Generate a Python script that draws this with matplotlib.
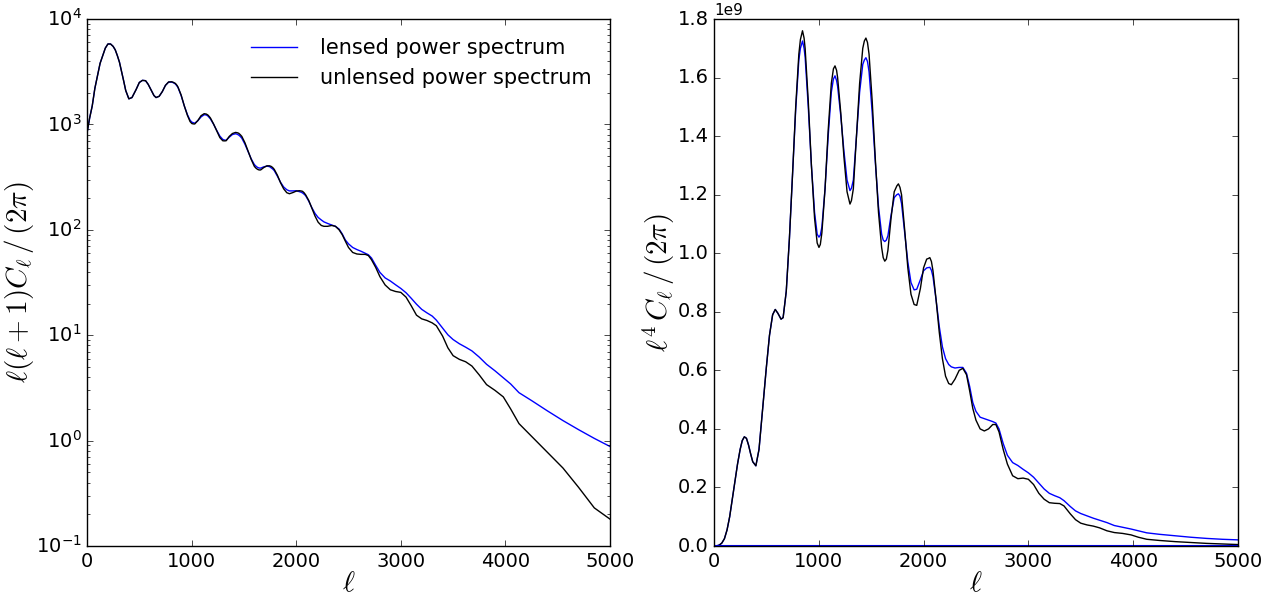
import numpy as np
import matplotlib
matplotlib.use('Agg')
import matplotlib.pyplot as plt

# multipoles
ell = [2, 25, 50, 75, 100, 125, 150, 175, 200, 225, 250, 270, 290, 310, 330, 350, 370,
       400, 430, 470, 500, 530, 560, 585, 610, 640, 660, 690, 720, 750, 780, 810, 825,
       845, 860, 870, 900, 930, 960, 985, 1002, 1015, 1030, 1060, 1090, 1120, 1140,
       1155, 1170, 1180, 1210, 1240, 1270, 1298, 1312, 1330, 1360, 1390, 1420, 1435,
       1450, 1465, 1480, 1510, 1540, 1570, 1600, 1615, 1630, 1645, 1660, 1690, 1720,
       1745, 1760, 1775, 1790, 1820, 1850, 1880, 1910, 1935, 1970, 2000, 2030, 2045,
       2060, 2075, 2090, 2120, 2150, 2180, 2210, 2240, 2265, 2300, 2340, 2375, 2410,
       2440, 2470, 2500, 2540, 2580, 2620, 2660, 2690, 2720, 2760, 2800, 2850, 2900,
       2950, 3000, 3050, 3100, 3150, 3200, 3250, 3300, 3340, 3400, 3450, 3500, 3560,
       3620, 3680, 3750, 3820, 3900, 3980, 4050, 4130, 4250, 4400, 4550, 4700, 4850,
       5000]

# l(l+1)C_l/2pi  (left panel)
dl_unlensed = [850, 1150, 1500, 2200, 2900, 3800, 4500, 5300, 5800, 5800, 5500, 5100,
               4500, 3900, 3200, 2600, 2100, 1750, 1800, 2150, 2500, 2620, 2600, 2400,
               2150, 1880, 1800, 1850, 2050, 2350, 2530, 2540, 2510, 2450, 2350, 2260,
               1900, 1500, 1220, 1065, 1020, 1012, 1010, 1090, 1210, 1265, 1255, 1230,
               1185, 1150, 1010, 870, 750, 700, 698, 700, 770, 820, 840, 835, 825, 800,
               770, 670, 560, 465, 400, 385, 375, 370, 370, 390, 405, 405, 400, 390,
               375, 330, 280, 245, 225, 220, 226, 233, 235, 234, 232, 225, 215, 190,
               160, 135, 118, 110, 108, 108, 110, 108, 100, 90, 78, 68, 61, 59, 58.5,
               58.5, 57, 52, 44, 36, 30, 27, 26, 25.5, 23, 19, 15.5, 14.3, 13.8, 13.1,
               12.3, 9.8, 7.6, 6.4, 5.9, 5.6, 5.1, 4.2, 3.4, 3.0, 2.6, 2.0, 1.45, 1.1,
               0.78, 0.55, 0.36, 0.23, 0.18]
dl_lensed = [850, 1150, 1500, 2200, 2900, 3800, 4500, 5300, 5800, 5800, 5500, 5100,
             4500, 3900, 3200, 2600, 2100, 1750, 1800, 2150, 2500, 2620, 2600, 2400,
             2150, 1880, 1800, 1850, 2050, 2350, 2520, 2520, 2490, 2420, 2320, 2240,
             1880, 1500, 1237, 1098, 1051, 1040, 1027, 1086, 1178, 1236, 1230, 1204,
             1160, 1128, 1004, 878, 775, 721, 712, 707, 757, 802, 816, 808, 793, 770,
             740, 649, 552, 471, 416, 402, 391, 386, 385, 396, 402, 398, 388, 378,
             365, 323, 283, 255, 240, 234, 234, 235, 230, 228, 224, 218, 211, 187,
             162, 143, 131, 124, 119, 115, 111, 108, 101.6, 91.5, 80, 73.6, 68, 65,
             62.6, 60, 58, 54, 46, 39.5, 35, 32.7, 30.1, 27.8, 25.3, 22.4, 19.7, 17.6,
             16.3, 15.2, 13.9, 11.7, 10.1, 9.1, 8.3, 7.7, 7.1, 6.2, 5.3, 4.6, 3.95,
             3.45, 2.85, 2.4, 1.92, 1.55, 1.27, 1.05, 0.88]

# l^4 C_l/2pi in units of 1e9 (right panel)
l4cl_unlensed = [0, 0.0005, 0.003, 0.01, 0.025, 0.055, 0.10, 0.16, 0.22, 0.28, 0.33,
                 0.36, 0.373, 0.368, 0.345, 0.315, 0.288, 0.274, 0.33, 0.49, 0.61, 0.72,
                 0.79, 0.808, 0.795, 0.775, 0.78, 0.87, 1.05, 1.27, 1.50, 1.68, 1.73,
                 1.76, 1.735, 1.70, 1.52, 1.30, 1.12, 1.035, 1.02, 1.03, 1.07, 1.22,
                 1.42, 1.58, 1.63, 1.64, 1.625, 1.60, 1.48, 1.33, 1.21, 1.168, 1.18,
                 1.22, 1.40, 1.58, 1.70, 1.725, 1.735, 1.72, 1.68, 1.52, 1.32, 1.14,
                 1.02, 0.985, 0.973, 0.98, 1.01, 1.12, 1.21, 1.23, 1.237, 1.225, 1.20,
                 1.08, 0.95, 0.86, 0.825, 0.822, 0.88, 0.95, 0.98, 0.982, 0.985, 0.972,
                 0.94, 0.84, 0.73, 0.64, 0.58, 0.555, 0.551, 0.57, 0.60, 0.607, 0.585,
                 0.53, 0.47, 0.43, 0.40, 0.393, 0.40, 0.415, 0.415, 0.39, 0.33, 0.28,
                 0.24, 0.23, 0.232, 0.228, 0.21, 0.18, 0.16, 0.148, 0.146, 0.145, 0.137,
                 0.11, 0.09, 0.078, 0.072, 0.068, 0.062, 0.052, 0.046, 0.043, 0.038,
                 0.03, 0.023, 0.019, 0.015, 0.012, 0.009, 0.007, 0.005]
l4cl_lensed = [0, 0.0005, 0.003, 0.01, 0.025, 0.055, 0.10, 0.16, 0.22, 0.28, 0.33,
               0.36, 0.373, 0.368, 0.345, 0.315, 0.288, 0.274, 0.33, 0.49, 0.61, 0.72,
               0.79, 0.808, 0.795, 0.775, 0.78, 0.87, 1.05, 1.27, 1.49, 1.66, 1.70,
               1.725, 1.70, 1.67, 1.50, 1.30, 1.14, 1.065, 1.055, 1.062, 1.09, 1.22,
               1.40, 1.55, 1.595, 1.606, 1.59, 1.57, 1.47, 1.35, 1.25, 1.214, 1.222,
               1.25, 1.40, 1.55, 1.645, 1.66, 1.668, 1.655, 1.62, 1.48, 1.31, 1.16,
               1.065, 1.045, 1.04, 1.045, 1.06, 1.13, 1.19, 1.20, 1.203, 1.195, 1.17,
               1.07, 0.97, 0.90, 0.875, 0.877, 0.91, 0.94, 0.95, 0.951, 0.952, 0.942,
               0.92, 0.84, 0.75, 0.68, 0.64, 0.62, 0.612, 0.608, 0.61, 0.61, 0.59,
               0.545, 0.49, 0.46, 0.44, 0.435, 0.43, 0.425, 0.42, 0.40, 0.35, 0.31,
               0.285, 0.275, 0.262, 0.25, 0.235, 0.215, 0.195, 0.18, 0.172, 0.165,
               0.155, 0.135, 0.12, 0.111, 0.103, 0.095, 0.088, 0.08, 0.07, 0.064,
               0.058, 0.052, 0.045, 0.04, 0.035, 0.03, 0.026, 0.023, 0.021]

plt.style.use('classic')
plt.rcParams['mathtext.fontset'] = 'cm'

fig = plt.figure(figsize=(12.74, 5.97), dpi=100, facecolor='white')
ax1 = fig.add_axes([0.0683, 0.0854, 0.4105, 0.8827])
ax2 = fig.add_axes([0.5604, 0.0854, 0.4113, 0.8827])

ell = np.array(ell)

# left: log plot
ax1.semilogy(ell, dl_lensed, 'b', lw=1, label='lensed power spectrum')
ax1.semilogy(ell, dl_unlensed, 'k', lw=1, label='unlensed power spectrum')
ax1.set_xlim(0, 5000)
ax1.set_ylim(0.1, 1e4)
ax1.set_xlabel(r'$\ell$', fontsize=21, labelpad=-1)
ax1.set_ylabel(r'$\ell(\ell+1)C_\ell\,/\,(2\pi)$', fontsize=21, labelpad=0)
ax1.legend(loc='upper right', frameon=False, fontsize=15, handlelength=2.8,
           handletextpad=0.8, borderaxespad=0.5)

# right: l^4 C_l
ax2.plot(ell, np.array(l4cl_lensed) * 1e9, 'b', lw=1)
ax2.plot(ell, np.array(l4cl_unlensed) * 1e9, 'k', lw=1)
ax2.axhline(0, color='b', lw=1.5)
ax2.set_xlim(0, 5000)
ax2.set_ylim(0, 1.8e9)
ax2.set_xlabel(r'$\ell$', fontsize=21, labelpad=-1)
ax2.set_ylabel(r'$\ell^4\,C_\ell\,/\,(2\pi)$', fontsize=21, labelpad=0)
ax2.yaxis.get_offset_text().set_fontsize(11)

for ax in (ax1, ax2):
    ax.tick_params(labelsize=14)

fig.savefig('out.png', dpi=100, facecolor='white')
